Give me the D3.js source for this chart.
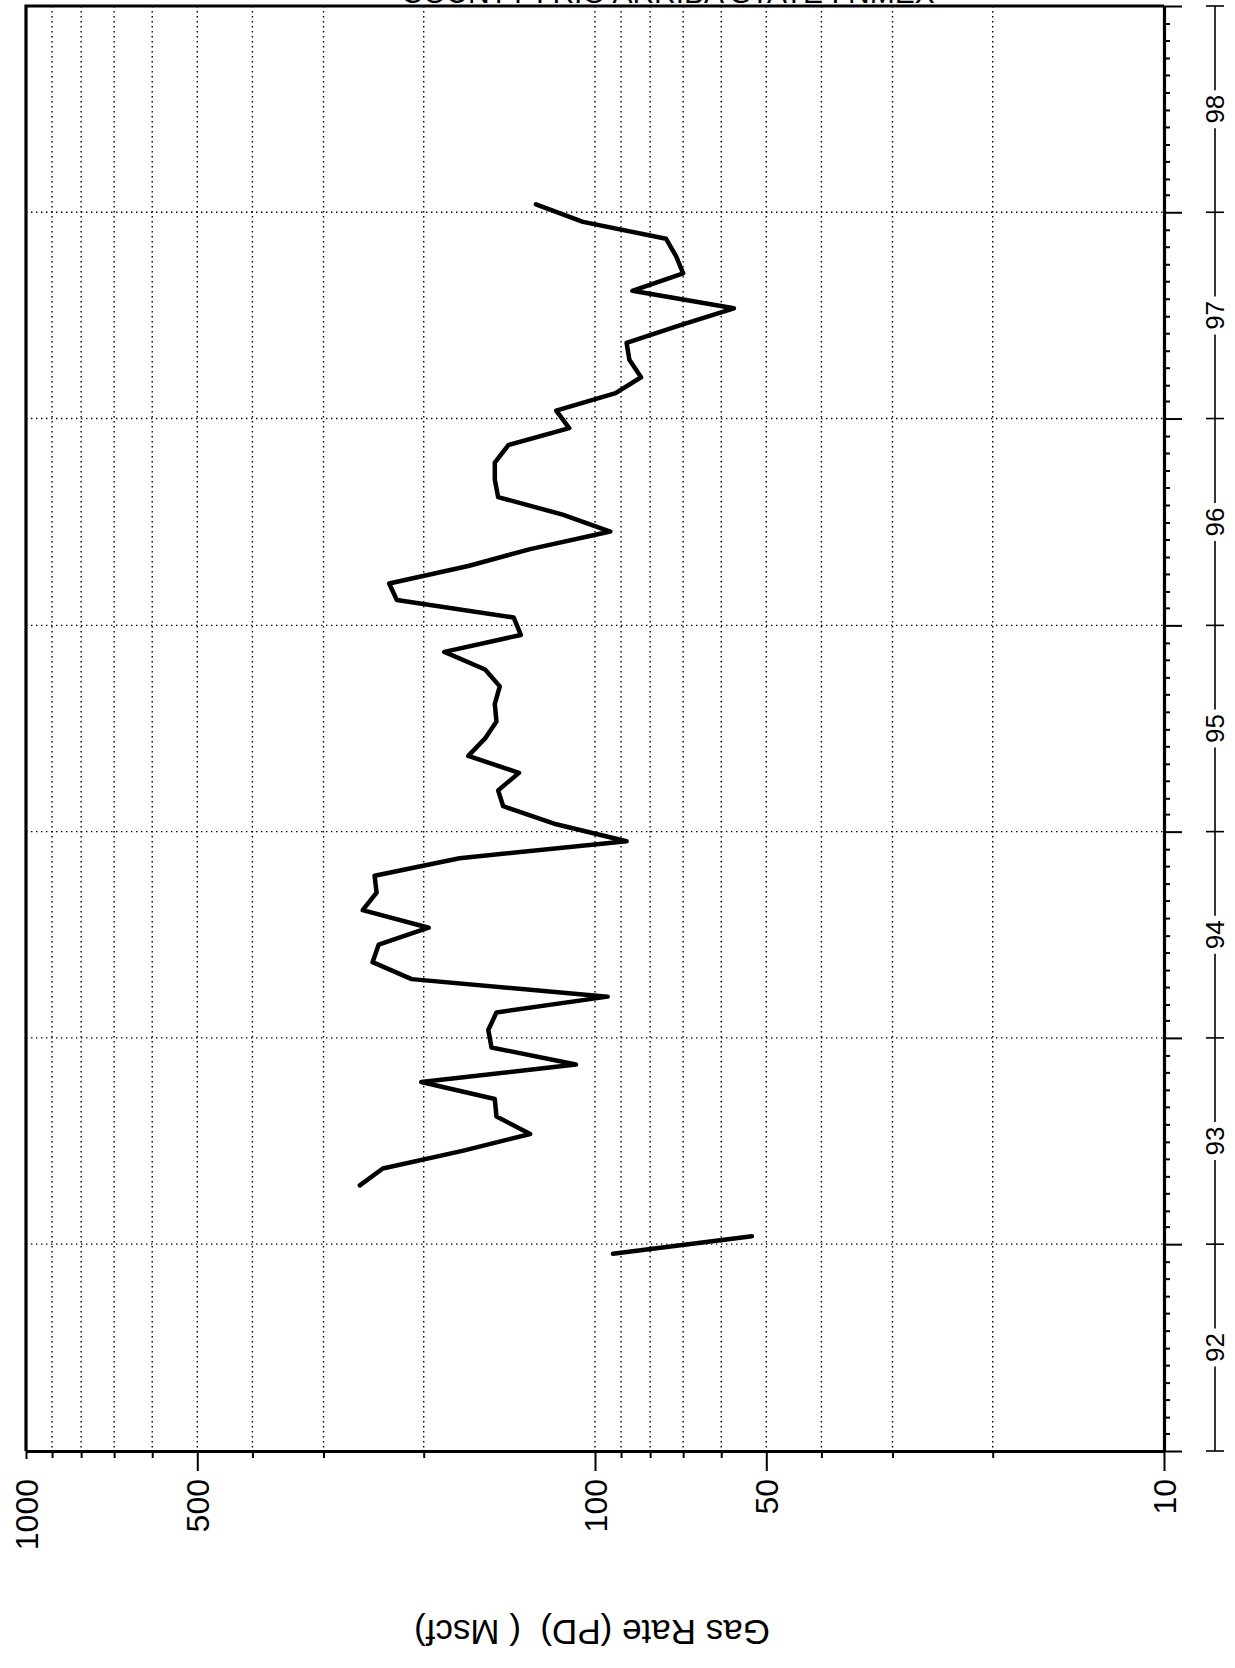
<!doctype html>
<html>
<head>
<meta charset="utf-8">
<title>Gas Rate (PD)</title>
<style>
body{margin:0;background:#fff;}
svg{display:block;}
</style>
</head>
<body>
<svg></svg>
<script src="https://cdn.jsdelivr.net/npm/d3@7/dist/d3.min.js"></script>
<script>
var W = 1235, H = 1668;
var narrow = '"Liberation Sans Narrow","Liberation Sans",Arial,sans-serif';
var plain = '"Liberation Sans",Arial,sans-serif';

// axis values
var rateTicks = [1000, 500, 100, 50, 10];
var rateMinor = [20, 30, 40, 60, 70, 80, 90, 200, 300, 400, 600, 700, 800, 900];
var yearLabels = ['92', '93', '94', '95', '96', '97', '98'];

// short piece at the end of 1992
var seg1Dates = ['1992-12', '1993-01'];
var seg1Rate = [93, 53];

// main monthly series
var seg2Dates = ['1993-04','1993-05','1993-06','1993-07','1993-08','1993-09','1993-10','1993-11','1993-12',
  '1994-01','1994-02','1994-03','1994-04','1994-05','1994-06','1994-07','1994-08','1994-09','1994-10','1994-11','1994-12',
  '1995-01','1995-02','1995-03','1995-04','1995-05','1995-06','1995-07','1995-08','1995-09','1995-10','1995-11','1995-12',
  '1996-01','1996-02','1996-03','1996-04','1996-05','1996-06','1996-07','1996-08','1996-09','1996-10','1996-11','1996-12',
  '1997-01','1997-02','1997-03','1997-04','1997-05','1997-06','1997-07','1997-08','1997-09','1997-10','1997-11','1997-12',
  '1998-01'];
var seg2Rate = [259, 236, 171, 130, 149, 150, 202, 108, 152,
  154, 149, 95, 210, 246, 240, 196, 256, 242, 244, 173, 88,
  118, 145, 148, 136, 167, 156, 149, 150, 147, 156, 184, 135,
  139, 223, 230, 167, 130, 94, 114, 148, 150, 150, 142, 111,
  117, 92, 83, 87, 88, 71, 57, 86, 70, 72, 75, 105,
  127];

var pL = 26, pR = 1164, pT = 6, pB = 1451;

var svg = d3.select('svg').attr('width', W).attr('height', H);

// rate runs left to right (1000 -> 10), time runs bottom to top
var x = d3.scaleLog().domain([1000, 10]).range([pL, pR]);
var y = d3.scaleUtc()
    .domain([new Date(Date.UTC(1992, 0, 1)), new Date(Date.UTC(1999, 0, 1))])
    .range([pB, pT]);

function mid(s) {   // middle of the month
    var p = s.split('-');
    return new Date(Date.UTC(+p[0], +p[1] - 1, 15));
}

// dotted grid
var grid = svg.append('g')
    .attr('stroke', '#000')
    .attr('stroke-width', 1.4)
    .attr('stroke-dasharray', '1.4,3.6');
grid.selectAll('line.v')
    .data(rateMinor.concat([500, 100, 50]))
    .enter().append('line')
    .attr('x1', function (d) { return x(d); })
    .attr('x2', function (d) { return x(d); })
    .attr('y1', pT).attr('y2', pB);
var yearStarts = d3.utcYear.range(new Date(Date.UTC(1993, 0, 1)), new Date(Date.UTC(1999, 0, 1)));
grid.selectAll('line.h')
    .data(yearStarts)
    .enter().append('line')
    .attr('x1', pL).attr('x2', pR)
    .attr('y1', function (d) { return y(d); })
    .attr('y2', function (d) { return y(d); });

// frame: top and left
svg.append('path')
    .attr('d', 'M' + pR + ',' + pT + 'H' + pL + 'V' + pB)
    .attr('fill', 'none')
    .attr('stroke', '#000')
    .attr('stroke-width', 3.2);

// rate axis (bottom)
var ax = svg.append('g')
    .attr('transform', 'translate(0,' + pB + ')')
    .call(d3.axisBottom(x)
        .tickValues(rateTicks.concat(rateMinor))
        .tickSizeOuter(0)
        .tickFormat(function (d) { return rateTicks.indexOf(d) >= 0 ? d : ''; }))
    .attr('font-family', narrow)
    .attr('font-size', 32);
ax.select('.domain').attr('stroke-width', 3.2);
ax.selectAll('.tick line')
    .attr('stroke-width', 2)
    .attr('y2', function (d) { return d === 1000 ? 8 : (rateTicks.indexOf(d) >= 0 ? 20 : 7); });
ax.selectAll('.tick text')
    .attr('x', 0).attr('y', 0)
    .attr('dy', '0.36em')
    .attr('text-anchor', 'end')
    .attr('fill', '#000')
    .attr('transform', 'translate(0,28) rotate(-90)');

// time axis (right)
var ay = svg.append('g')
    .attr('transform', 'translate(' + pR + ',0)')
    .call(d3.axisRight(y)
        .ticks(d3.utcMonth.every(1))
        .tickSizeOuter(0)
        .tickFormat(''));
ay.select('.domain').attr('stroke-width', 3.2);
ay.selectAll('.tick line')
    .attr('stroke-width', 2)
    .attr('x2', function (d) { return d.getUTCMonth() === 0 ? 18 : 6; });

// year labels  |--- 92 ---|
var lx = 1215, gap = 19;
var yr = svg.append('g').attr('stroke', '#000').attr('stroke-width', 1.6);
var bounds = d3.utcYear.range(new Date(Date.UTC(1992, 0, 1)), new Date(Date.UTC(2000, 0, 1)));
yr.selectAll('line.cap')
    .data(bounds)
    .enter().append('line')
    .attr('x1', lx - 9).attr('x2', lx + 9)
    .attr('y1', function (d) { return y(d); })
    .attr('y2', function (d) { return y(d); });
yearLabels.forEach(function (lab, i) {
    var y0 = y(bounds[i]), y1 = y(bounds[i + 1]), ym = (y0 + y1) / 2;
    yr.append('line').attr('x1', lx).attr('x2', lx).attr('y1', y0).attr('y2', ym + gap);
    yr.append('line').attr('x1', lx).attr('x2', lx).attr('y1', ym - gap).attr('y2', y1);
    svg.append('text')
        .attr('transform', 'translate(' + lx + ',' + ym + ') rotate(-90)')
        .attr('text-anchor', 'middle')
        .attr('dy', '0.36em')
        .attr('font-family', plain)
        .attr('font-size', 26)
        .text(lab);
});

// data
var line = d3.line()
    .x(function (d) { return x(d.v); })
    .y(function (d) { return y(d.t); });
[[seg1Dates, seg1Rate], [seg2Dates, seg2Rate]].forEach(function (s) {
    var pts = s[0].map(function (t, i) { return { t: mid(t), v: s[1][i] }; });
    svg.append('path')
        .datum(pts)
        .attr('d', line)
        .attr('fill', 'none')
        .attr('stroke', '#000')
        .attr('stroke-width', 4.5)
        .attr('stroke-linejoin', 'round')
        .attr('stroke-linecap', 'round');
});

// axis title, upside down like the rest of the page
svg.append('text')
    .attr('transform', 'translate(592,1620) rotate(180)')
    .attr('text-anchor', 'middle')
    .attr('font-family', narrow)
    .attr('font-size', 35)
    .attr('xml:space', 'preserve')
    .text('Gas Rate (PD)  ( Mscf)');

// header, mostly cut off by the top edge
svg.append('text')
    .attr('x', 668).attr('y', 3)
    .attr('text-anchor', 'middle')
    .attr('font-family', narrow)
    .attr('font-size', 30)
    .text('COUNTY : RIO ARRIBA   STATE : NMEX');
</script>
</body>
</html>
